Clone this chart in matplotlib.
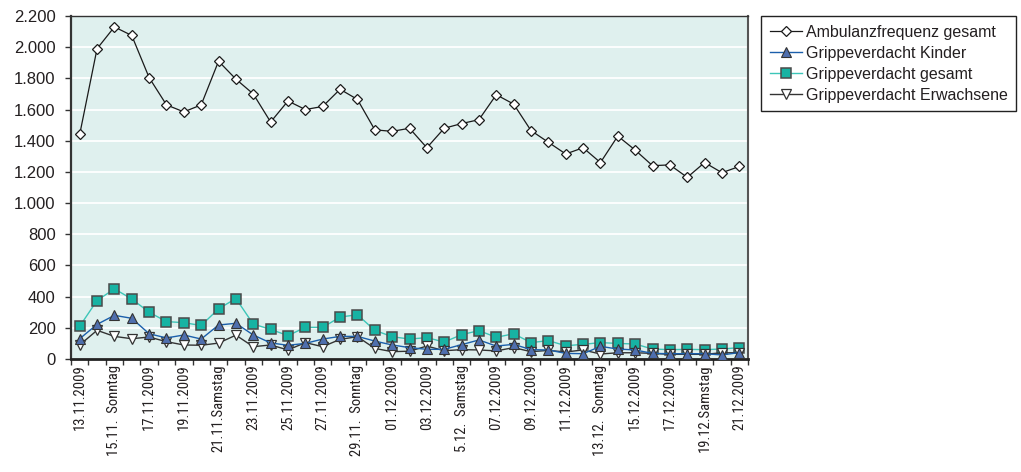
import numpy as np
import matplotlib
matplotlib.use("Agg")
import matplotlib.pyplot as plt
from matplotlib.ticker import FuncFormatter

plt.rcParams['font.family'] = ['Liberation Sans', 'DejaVu Sans']

# Daily values 13.11.2009 - 21.12.2009
ambulanzfrequenz = [1440, 1990, 2130, 2075, 1805, 1630, 1585, 1630, 1910, 1795,
                    1700, 1520, 1655, 1600, 1620, 1730, 1665, 1470, 1460, 1480,
                    1355, 1480, 1510, 1535, 1695, 1635, 1465, 1390, 1315, 1355,
                    1260, 1430, 1340, 1240, 1245, 1165, 1260, 1195, 1235]
grippe_kinder = [130, 222, 280, 261, 162, 135, 154, 128, 218, 229,
                 154, 103, 88, 100, 128, 145, 145, 115, 90, 73,
                 62, 62, 92, 122, 83, 94, 60, 58, 36, 34,
                 81, 64, 58, 36, 34, 34, 34, 26, 41]
grippe_gesamt = [210, 375, 450, 385, 300, 240, 233, 215, 322, 388,
                 224, 190, 150, 203, 203, 269, 284, 184, 143, 128,
                 137, 109, 156, 182, 139, 162, 105, 118, 85, 94,
                 105, 100, 96, 64, 60, 62, 60, 64, 73]
grippe_erwachsene = [90, 184, 145, 130, 141, 111, 90, 88, 102, 153,
                     79, 90, 58, 105, 79, 126, 143, 68, 47, 50,
                     83, 53, 60, 58, 52, 73, 47, 55, 45, 58,
                     32, 40, 40, 36, 30, 30, 30, 40, 40]
tick_labels = ["13.11.2009", "15.11.  Sonntag", "17.11.2009", "19.11.2009",
               "21.11.Samstag", "23.11.2009", "25.11.2009", "27.11.2009",
               "29.11.  Sonntag", "01.12.2009", "03.12.2009", "5.12.  Samstag",
               "07.12.2009", "09.12.2009", "11.12.2009", "13.12.  Sonntag",
               "15.12.2009", "17.12.2009", "19.12.Samstag", "21.12.2009"]
series_names = ["Ambulanzfrequenz gesamt", "Grippeverdacht Kinder",
                "Grippeverdacht gesamt", "Grippeverdacht Erwachsene"]

x = np.arange(len(ambulanzfrequenz))

W, H = 1021, 472
fig = plt.figure(figsize=(W / 100, H / 100), dpi=100)
ax = fig.add_axes([71 / W, 1 - 359 / H, (748 - 71) / W, (359 - 16) / H])
ax.set_facecolor('#dff0ee')

ax.set_xlim(-0.5, len(x) - 0.5)
ax.set_ylim(0, 2200)
ax.set_yticks(np.arange(0, 2201, 200))
ax.yaxis.set_major_formatter(FuncFormatter(lambda v, p: f"{int(v):,}".replace(",", ".")))
ax.grid(axis='y', color='white', linewidth=1.3, zorder=0)
ax.set_axisbelow(True)

# category boundaries carry the tick marks, every second category gets a label
ax.set_xticks(np.arange(-0.5, len(x), 1))
ax.set_xticklabels([])
ax.set_xticks(x[::2], minor=True)
ax.set_xticklabels(tick_labels, minor=True, rotation=90,
                   family=['Roboto Condensed', 'Liberation Sans'], fontsize=10.5,
                   color='#231f20')
ax.tick_params(axis='x', which='major', length=4, width=1, color='#333333', direction='out')
ax.tick_params(axis='x', which='minor', length=0, pad=4)
ax.tick_params(axis='y', length=4, width=1, color='#333333', pad=7,
               labelsize=12, labelcolor='#231f20')

for side, (c, lw) in {'left': ('#333333', 1.6), 'bottom': ('#222222', 2.0),
                      'top': ('#333333', 1.0), 'right': ('#555555', 1.5)}.items():
    ax.spines[side].set_color(c)
    ax.spines[side].set_linewidth(lw)

h_amb, = ax.plot(x, ambulanzfrequenz, color='#1a1a1a', lw=0.9, marker='D', ms=5.5,
                 mfc='white', mec='#1a1a1a', mew=0.9, zorder=3)
h_ges, = ax.plot(x, grippe_gesamt, color='#3cc6b8', lw=1.0, marker='s', ms=6.5,
                 mfc='#17b3a3', mec='#4a4a4a', mew=1.1, zorder=3)
h_erw, = ax.plot(x, grippe_erwachsene, color='#333333', lw=1.0, marker='v', ms=6.5,
                 mfc='white', mec='#333333', mew=0.9, zorder=4)
h_kin, = ax.plot(x, grippe_kinder, color='#1b5fab', lw=1.0, marker='^', ms=6.5,
                 mfc='#4f6fae', mec='#333333', mew=0.8, zorder=5)

leg = fig.legend([h_amb, h_kin, h_ges, h_erw], series_names,
                 loc='upper left', bbox_to_anchor=(761 / W, 1 - 16 / H),
                 bbox_transform=fig.transFigure, frameon=True, fancybox=False,
                 edgecolor='#222222', framealpha=1, fontsize=11.5, numpoints=1,
                 handlelength=2.0, handletextpad=0.25, borderpad=0.55,
                 labelspacing=0.37, borderaxespad=0)
leg.get_frame().set_linewidth(1.0)
for t in leg.get_texts():
    t.set_color('#231f20')

fig.savefig('out.png', dpi=100)
